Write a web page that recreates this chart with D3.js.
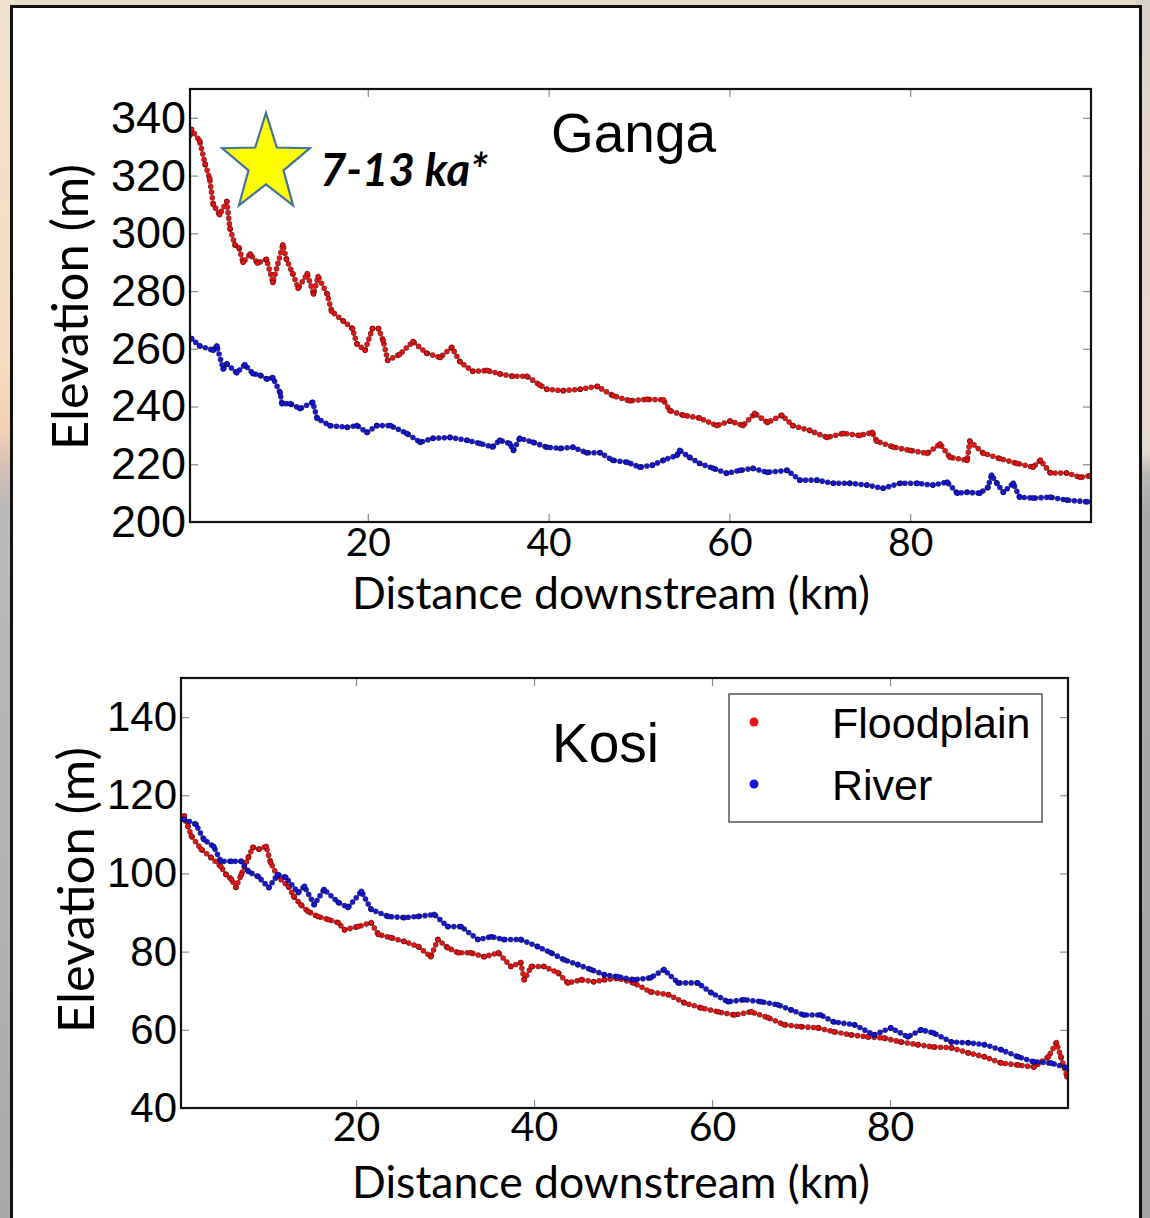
<!DOCTYPE html>
<html>
<head>
<meta charset="utf-8">
<script src="https://cdn.jsdelivr.net/npm/d3@7"></script>
<style>
  html, body { margin: 0; padding: 0; overflow: hidden; background: #fff; }
  svg { display: block; }
</style>
</head>
<body>
<svg id="fig" width="1150" height="1218"></svg>
<script>
// Elevation profiles along the channel: [distance downstream (km), elevation (m)]
const gangaFloodplain = [
  [0.3,334],[0.5,336],[1.4,332],[2.0,324],[2.5,319],[2.9,310],[3.6,306.5],[4.4,311],[4.75,301.7],
  [5.3,296],[5.75,295],[6.2,290],[7.0,292.8],[7.8,289.7],[8.8,291],[9.5,283],[10.6,296],[11.0,291],
  [11.7,286],[12.3,281],[13.3,286],[14.0,279],[14.5,285],[15.5,279],[16.0,273],[17.3,269.6],[18.3,267],
  [18.8,261.7],[19.7,259.5],[20.5,267],[21.2,267],[21.7,262.8],[22.2,256],[23.5,258],[25.0,262.5],
  [26.5,258.5],[28.0,257],[29.3,260.5],[30.2,255.5],[31.6,252.2],[33.2,252.5],[34.6,251.3],[36.0,250.5],
  [37.6,250.5],[39.0,247.5],[39.8,246],[41.6,245.5],[43.5,246],[45.4,247],[47.1,243.8],[49.0,242],
  [50.9,242.5],[52.7,242.3],[53.4,238.6],[54.9,237],[56.7,236],[58.6,233.4],[60.1,235],[61.5,233.4],
  [62.8,237.6],[64.2,234.5],[65.8,237],[67.0,233.4],[68.9,231.7],[70.8,229.3],[72.6,230.7],[74.4,230],
  [75.8,231],[76.3,228],[78.1,226],[80.0,224.8],[81.9,223.8],[83.3,227],[84.4,222.4],[86.3,221.4],
  [86.6,228],[88.1,223.8],[89.9,222],[91.8,220.3],[93.6,219],[94.4,221.4],[95.5,217],[97.3,217],
  [98.8,215.5],[99.9,216]
];
const gangaRiver = [
  [0.5,263.5],[1.4,261],[2.9,259.5],[3.3,261],[4.0,253],[4.4,254.8],[5.5,251.7],[6.4,254.5],[7.3,251.4],
  [8.1,250.8],[8.85,249.5],[9.5,250],[10.3,244.8],[10.5,241],[11.4,241],[12.5,239.3],[13.9,241.5],
  [14.4,235.9],[15.8,233.4],[17.7,232.8],[18.8,233.4],[19.9,231],[21.0,233.4],[22.5,233.4],[24.3,230.7],
  [25.8,227.6],[27.2,229],[29.1,229.3],[31.0,228.3],[32.4,227.2],[33.8,226],[34.6,228.3],[35.7,227.2],
  [36.1,224.8],[36.8,229],[38.3,227.6],[39.8,225.9],[41.3,225.5],[42.7,225.9],[44.2,224],[45.7,224],
  [47.1,221.4],[48.7,220.7],[50.1,219],[51.5,219.7],[52.7,221.4],[54.2,223.1],[54.5,224.8],[55.6,222.4],
  [56.7,220.3],[58.2,218.6],[59.7,216.9],[61.2,217.9],[62.6,218.6],[64.2,217.2],[66.4,217.9],[67.8,214.5],
  [69.7,214.5],[71.5,213.4],[73.3,213.4],[75.2,212.8],[77.0,211.7],[78.9,213.4],[80.8,213.4],[82.5,212.8],
  [84.1,213.8],[85.2,210],[86.3,210.3],[87.7,210],[88.6,212],[89.0,216.2],[89.6,213.4],[90.3,210.3],
  [91.4,213.4],[92.1,208.6],[93.6,208.3],[95.5,208.6],[97.3,207.6],[99.6,207]
];
const kosiFloodplain = [
  [0.7,114.7],[1.1,112.1],[1.5,109.6],[2.6,106.2],[3.7,104.1],[4.8,101.8],[5.4,99.7],[6.0,98.5],[6.5,96.4],
  [7.1,99.7],[7.9,104.1],[8.4,106.7],[9.1,106.2],[9.9,106.9],[10.4,102.8],[11.2,99.2],[12.4,96.7],[13.0,94.1],
  [13.8,92],[14.6,90.3],[15.7,89],[16.9,88.2],[18.0,87.4],[18.7,85.6],[20.2,86.4],[21.7,87.4],[22.5,84.4],
  [23.9,83.6],[25.4,82.6],[27.0,81.3],[28.4,78.7],[29.2,83.1],[30.3,81],[31.5,79.7],[32.9,79.7],[34.4,78.7],
  [36.0,79.7],[37.4,76.2],[38.5,77.2],[38.9,72.8],[39.7,76.2],[41.1,76.2],[42.7,74.6],[43.8,72],[45.3,72.8],
  [46.7,72.3],[47.9,72.8],[49.4,73.2],[51.2,72],[53.1,69.7],[55.1,69],[56.9,66.9],[58.8,65.6],[60.7,64.6],
  [62.5,63.8],[64.4,64.6],[66.3,63.1],[68.1,61.3],[70.0,60.8],[71.9,60.5],[73.7,59.5],[75.6,58.7],[77.5,58.2],
  [79.3,57.9],[81.2,56.9],[83.1,56.2],[84.9,55.6],[86.9,55.4],[88.8,54.1],[90.6,53.1],[92.5,51.5],[94.4,51],
  [96.2,50.5],[97.8,53.1],[98.7,56.7],[99.2,53.1],[99.9,48]
];
const kosiRiver = [
  [0.7,113.8],[2.0,112.6],[2.9,108.7],[4.0,106.9],[4.8,103.1],[6.0,103.1],[7.1,103.1],[7.9,100.5],[9.0,99.2],
  [10.2,96.4],[11.2,99.7],[12.1,99],[13.5,95.1],[14.2,96.7],[15.3,92],[16.4,95.9],[18.0,92.6],[19.1,91.3],
  [20.6,95.4],[21.7,90.8],[23.6,89],[25.4,88.7],[27.0,89],[28.8,89.5],[30.3,86.4],[31.8,86.4],[33.7,83.1],
  [35.2,83.8],[36.6,83.1],[38.5,83.1],[40.4,81.3],[41.9,79.7],[43.4,77.9],[44.9,76.7],[46.4,75.4],[47.9,74.1],
  [49.4,73.6],[51.2,72.8],[53.1,73.3],[54.6,75.4],[56.2,72],[58.4,72],[59.9,69.5],[61.8,67.2],[63.6,67.7],
  [65.5,67.2],[67.4,66.4],[68.9,65.1],[70.3,63.8],[72.2,63.8],[73.7,62],[76.0,61.3],[78.2,58.7],[80.1,60.5],
  [82.0,58.2],[83.5,60],[84.9,59.2],[86.9,56.9],[88.8,56.7],[90.6,56.2],[92.5,54.9],[94.4,53.1],[96.2,51.8],
  [98.1,51.5],[99.9,50.3]
];

const xTicks = [20, 40, 60, 80];
const gangaYTicks = [200, 220, 240, 260, 280, 300, 320, 340];
const kosiYTicks = [40, 60, 80, 100, 120, 140];
const seriesNames = ["Floodplain", "River"];
const seriesColors = ["#ee1111", "#1515dd"];
const seriesEdges = ["#5a0000", "#00004a"];

const svg = d3.select("#fig");
const defs = svg.append("defs");

// ---- surrounding backdrop ----
const gL = defs.append("linearGradient").attr("id", "bgLeft").attr("x1", 0).attr("y1", 0).attr("x2", 0).attr("y2", 1);
[[0, "#f1e2cc"], [0.3, "#f7dcc0"], [0.355, "#f2cfb4"], [0.38, "#d9c2b4"], [0.41, "#bdb9b6"], [0.7, "#b3b3b3"], [1, "#a9a9a9"]]
  .forEach(([o, c]) => gL.append("stop").attr("offset", o).attr("stop-color", c));
const gR = defs.append("linearGradient").attr("id", "bgRight").attr("x1", 0).attr("y1", 0).attr("x2", 0).attr("y2", 1);
[[0, "#d8d1ca"], [0.15, "#e6d8c9"], [0.37, "#e6dbd0"], [0.39, "#b9b6b3"], [0.42, "#a9a9a9"], [1, "#a3a3a3"]]
  .forEach(([o, c]) => gR.append("stop").attr("offset", o).attr("stop-color", c));

svg.append("rect").attr("x", 0).attr("y", 0).attr("width", 1150).attr("height", 1218).attr("fill", "#e9dccb");
svg.append("rect").attr("x", 0).attr("y", 0).attr("width", 14).attr("height", 1218).attr("fill", "url(#bgLeft)");
svg.append("rect").attr("x", 1136).attr("y", 0).attr("width", 14).attr("height", 1218).attr("fill", "url(#bgRight)");
svg.append("rect").attr("x", 11.5).attr("y", 6.5).attr("width", 1129).attr("height", 1230)
  .attr("fill", "#ffffff").attr("stroke", "#111").attr("stroke-width", 3);

function fitWidth(sel, target, size) {
  const w = sel.node().getComputedTextLength();
  if (w > 0) sel.attr("font-size", size * target / w);
}

// ---- one profile panel ----
function drawPanel(cfg) {
  const x = d3.scaleLinear().domain([0.33, 100]).range([cfg.left, cfg.right]);
  const y = d3.scaleLinear().domain(cfg.yDomain).range([cfg.bottom, cfg.top]);
  const g = svg.append("g");

  const tickStyle = sel => {
    sel.select(".domain").remove();
    sel.selectAll(".tick line").attr("stroke", "#8a8a8a").attr("stroke-width", 1.2);
  };

  // inward ticks on all four sides
  g.append("g").attr("transform", `translate(0,${cfg.bottom})`)
    .call(d3.axisBottom(x).tickValues(xTicks).tickSize(-8).tickPadding(cfg.xPad).tickFormat(d3.format("d")))
    .call(tickStyle)
    .call(s => s.selectAll("text").attr("fill", "#000").attr("font-family", "Lato, 'Open Sans', sans-serif")
      .attr("font-size", cfg.xTickSize));
  g.append("g").attr("transform", `translate(0,${cfg.top})`)
    .call(d3.axisTop(x).tickValues(xTicks).tickSize(-8).tickFormat(""))
    .call(tickStyle);
  g.append("g").attr("transform", `translate(${cfg.left},0)`)
    .call(d3.axisLeft(y).tickValues(cfg.yTicks).tickSize(-8).tickPadding(4).tickFormat(d3.format("d")))
    .call(tickStyle)
    .call(s => s.selectAll("text").attr("fill", "#000").attr("font-family", "'Liberation Sans', Arial, sans-serif")
      .attr("font-size", cfg.yTickSize));
  g.append("g").attr("transform", `translate(${cfg.right},0)`)
    .call(d3.axisRight(y).tickValues(cfg.yTicks).tickSize(-8).tickFormat(""))
    .call(tickStyle);

  // profiles, drawn as chains of small dots
  const clipId = "clip" + cfg.name;
  defs.append("clipPath").attr("id", clipId).append("rect")
    .attr("x", cfg.left).attr("y", cfg.top).attr("width", cfg.right - cfg.left).attr("height", cfg.bottom - cfg.top);
  const plot = g.append("g").attr("clip-path", `url(#${clipId})`);
  const line = d3.line().x(d => x(d[0])).y(d => y(d[1]));
  cfg.series.forEach((data, i) => {
    plot.append("path").datum(data).attr("d", line).attr("fill", "none")
      .attr("stroke", seriesEdges[i]).attr("stroke-width", 5.6)
      .attr("stroke-linecap", "round").attr("stroke-dasharray", "0 5.6").attr("opacity", 0.8);
    plot.append("path").datum(data).attr("d", line).attr("fill", "none")
      .attr("stroke", seriesColors[i]).attr("stroke-width", 4.3)
      .attr("stroke-linecap", "round").attr("stroke-dasharray", "0 5.6");
    plot.append("g").selectAll("circle").data(data).join("circle")
      .attr("cx", d => x(d[0])).attr("cy", d => y(d[1])).attr("r", 2.5)
      .attr("fill", seriesColors[i]).attr("stroke", seriesEdges[i]).attr("stroke-width", 0.7);
  });

  // frame
  g.append("rect").attr("x", cfg.left).attr("y", cfg.top)
    .attr("width", cfg.right - cfg.left).attr("height", cfg.bottom - cfg.top)
    .attr("fill", "none").attr("stroke", "#111").attr("stroke-width", 2.2);

  // panel title
  g.append("text").attr("x", cfg.titleX).attr("y", cfg.titleY)
    .attr("font-family", "'Liberation Sans', Arial, sans-serif").attr("font-size", 55)
    .attr("fill", "#000").text(cfg.name);

  // axis titles
  const xt = g.append("text").attr("x", cfg.xLabelX).attr("y", cfg.xLabelY).attr("text-anchor", "middle")
    .attr("font-family", "Lato, 'Open Sans', sans-serif").attr("font-size", 40).attr("fill", "#000")
    .text("Distance downstream (km)");
  fitWidth(xt, 518, 40);
  const yt = g.append("text").attr("transform", `translate(${cfg.yLabelX},${cfg.yLabelY}) rotate(-90)`)
    .attr("text-anchor", "middle").attr("font-family", "Lato, 'Open Sans', sans-serif")
    .attr("font-size", 42).attr("fill", "#000").text("Elevation (m)");
  fitWidth(yt, 286, 42);

  return { x, y, g };
}

// Ganga
const ganga = drawPanel({
  name: "Ganga", left: 190, right: 1091, top: 89, bottom: 522,
  yDomain: [200, 350], yTicks: gangaYTicks, series: [gangaFloodplain, gangaRiver],
  xPad: 6, xTickSize: 39, yTickSize: 45,
  titleX: 551, titleY: 152, xLabelX: 611, xLabelY: 609, yLabelX: 88, yLabelY: 307
});

// age marker for the Ganga floodplain surface
function starPoints(cx, cy, rx, ry, inner) {
  const pts = [];
  for (let k = 0; k < 10; k++) {
    const a = -Math.PI / 2 + k * Math.PI / 5;
    const f = k % 2 === 0 ? 1 : inner;
    pts.push([cx + rx * f * Math.cos(a), cy + ry * f * Math.sin(a)]);
  }
  return pts.map(p => p.join(",")).join(" ");
}
ganga.g.append("polygon").attr("points", starPoints(266, 164, 46, 51, 0.4))
  .attr("fill", "#ffff00").attr("stroke", "#41719c").attr("stroke-width", 2.2).attr("stroke-linejoin", "miter");
const age = ganga.g.append("text").attr("x", 320).attr("y", 186)
  .attr("font-family", "Lato, 'Open Sans', sans-serif").attr("font-weight", "bold").attr("font-style", "italic")
  .attr("font-size", 44).attr("fill", "#000").text("7-13 ka*");
fitWidth(age, 168, 44);

// Kosi
const kosi = drawPanel({
  name: "Kosi", left: 181, right: 1068, top: 678, bottom: 1108,
  yDomain: [40, 150], yTicks: kosiYTicks, series: [kosiFloodplain, kosiRiver],
  xPad: 4, xTickSize: 41, yTickSize: 42,
  titleX: 552, titleY: 762, xLabelX: 611, xLabelY: 1198, yLabelX: 94, yLabelY: 890
});

// legend
const lg = kosi.g.append("g");
lg.append("rect").attr("x", 729).attr("y", 694).attr("width", 313).attr("height", 128)
  .attr("fill", "#fff").attr("stroke", "#555").attr("stroke-width", 1.5);
seriesNames.forEach((name, i) => {
  const cy = 722 + i * 62;
  lg.append("circle").attr("cx", 754).attr("cy", cy).attr("r", 4.5).attr("fill", seriesColors[i]);
  lg.append("text").attr("x", 832).attr("y", cy + 16)
    .attr("font-family", "'Liberation Sans', Arial, sans-serif").attr("font-size", 43)
    .attr("fill", "#000").text(name);
});
</script>
</body>
</html>
